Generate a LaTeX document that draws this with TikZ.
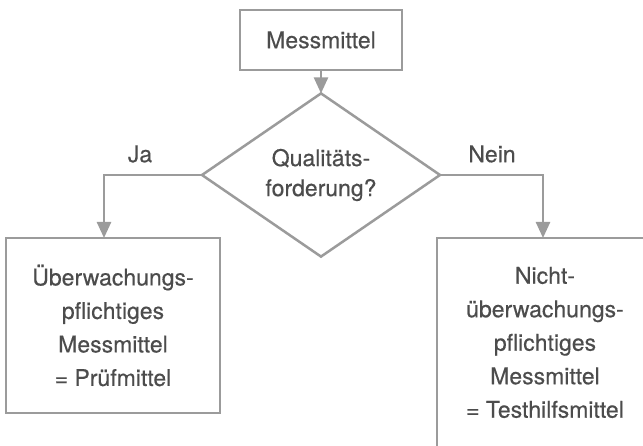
\documentclass[tikz,border=0pt]{standalone}
\usepackage{fontspec}
\setmainfont{TeX Gyre Heros}[FakeBold=0.4]
\usetikzlibrary{shapes.geometric,arrows.meta}

\definecolor{linegray}{HTML}{9B9B9B}
\definecolor{textgray}{HTML}{4C4C4C}

\tikzset{
  box/.style={draw=linegray, line width=2.5pt, fill=white, rectangle,
    inner sep=0pt, outer sep=0pt, align=center, text=textgray,
    font=\fontsize{23}{33.5}\selectfont},
  decision/.style={draw=linegray, line width=2.5pt, fill=white, diamond,
    inner sep=0pt, outer sep=0pt, align=center, text=textgray,
    font=\fontsize{23}{30}\selectfont},
  label/.style={text=textgray, font=\fontsize{23}{28}\selectfont, inner sep=0pt},
  flow/.style={draw=linegray, line width=2.5pt,
    -{Triangle[length=16pt,width=14pt]}},
}

\begin{document}
\begin{tikzpicture}[x=1pt, y=-1pt]
  \useasboundingbox (0,0) rectangle (643,446);
  \clip (0,0) rectangle (643,446);

  % top box
  \node[box, minimum width=162pt, minimum height=60pt] (M) at (321,40) {Messmittel};

  % decision
  \node[decision, minimum width=238pt, minimum height=156pt] (D) at (321,175)
    {Qualitäts-\\forderung?};

  % left outcome
  \node[box, minimum width=214pt, minimum height=175pt] (L) at (113,325.5)
    {Überwachungs-\\pflichtiges\\Messmittel\\= Prüfmittel};

  % right outcome (runs past the page edge)
  \node[box, minimum width=216pt, minimum height=209pt] (R) at (545,342.5)
    {Nicht-\\überwachungs-\\pflichtiges\\Messmittel\\= Testhilfsmittel};

  % connectors
  \draw[flow] (M.south) -- (D.north);
  \draw[flow] (D.west) -| ([xshift=-9pt]L.north);
  \draw[flow] (D.east) -| ([xshift=-2pt]R.north);

  % branch labels
  \node[label] (ja) at (140,154) {Ja};
  \node[label] (nein) at (492,154) {Nein};
\end{tikzpicture}
\end{document}
